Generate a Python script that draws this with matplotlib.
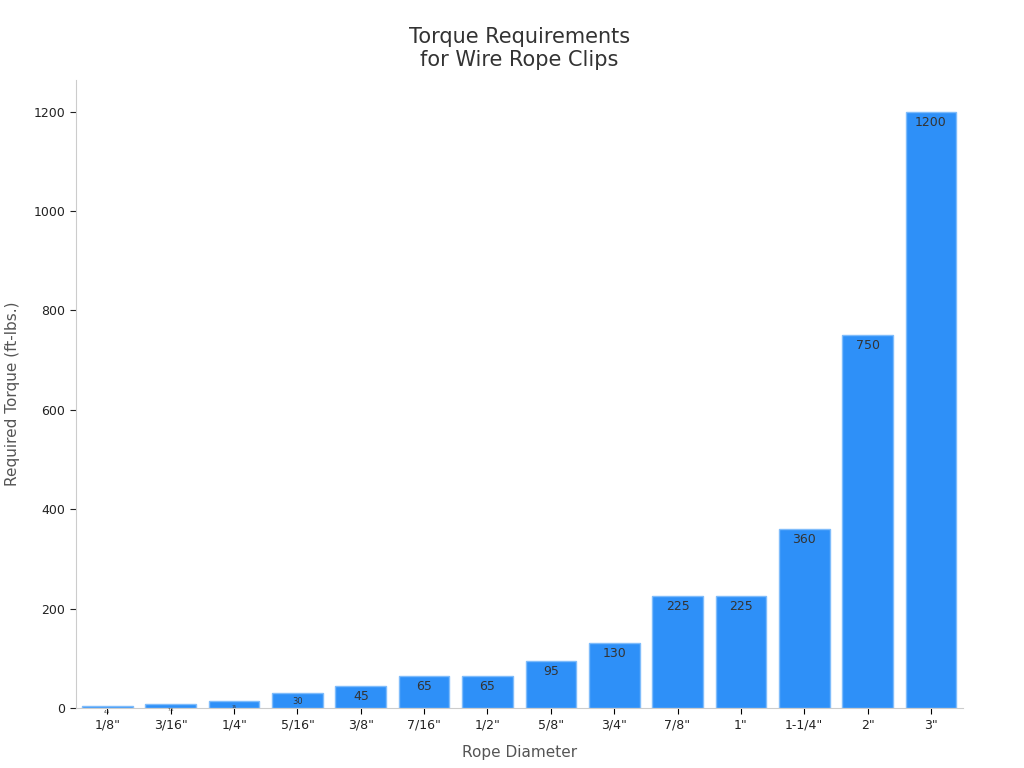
import matplotlib.pyplot as plt

diameters = ['1/8"', '3/16"', '1/4"', '5/16"', '3/8"', '7/16"', '1/2"',
             '5/8"', '3/4"', '7/8"', '1"', '1-1/4"', '2"', '3"']
torque = [4.5, 7.5, 15, 30, 45, 65, 65, 95, 130, 225, 225, 360, 750, 1200]

fig, ax = plt.subplots(figsize=(10.24, 7.68), dpi=100)
fig.subplots_adjust(left=0.074, right=0.94, top=0.896, bottom=0.078)

x = range(len(diameters))
bars = ax.bar(x, torque, width=0.8, color='#2e90f8', edgecolor='#7fbcfb', linewidth=1)

for xi, v in zip(x, torque):
    if v >= 40:
        fs = 9
    elif v >= 25:
        fs = 6
    else:
        fs = 3
    ax.text(xi, v - 8, f'{v:g}', ha='center', va='top', fontsize=fs, color='#333333')

ax.set_xticks(list(x))
ax.set_xticklabels(diameters, fontsize=9, color='#222222')
ax.set_xlim(-0.5, len(diameters) - 0.5)
ax.set_ylim(0, 1264)
ax.set_yticks([0, 200, 400, 600, 800, 1000, 1200])
ax.tick_params(axis='y', labelsize=9, colors='#222222', length=4)
ax.tick_params(axis='x', length=4)
for s in ['top', 'right']:
    ax.spines[s].set_visible(False)
for s in ['left', 'bottom']:
    ax.spines[s].set_color('#cccccc')

ax.set_xlabel('Rope Diameter', fontsize=11, color='#555555', labelpad=10)
ax.set_ylabel('Required Torque (ft-lbs.)', fontsize=11, color='#555555', labelpad=10)
ax.set_title('Torque Requirements\nfor Wire Rope Clips', fontsize=15, color='#333333', pad=10)

fig.savefig('out.png', dpi=100)
